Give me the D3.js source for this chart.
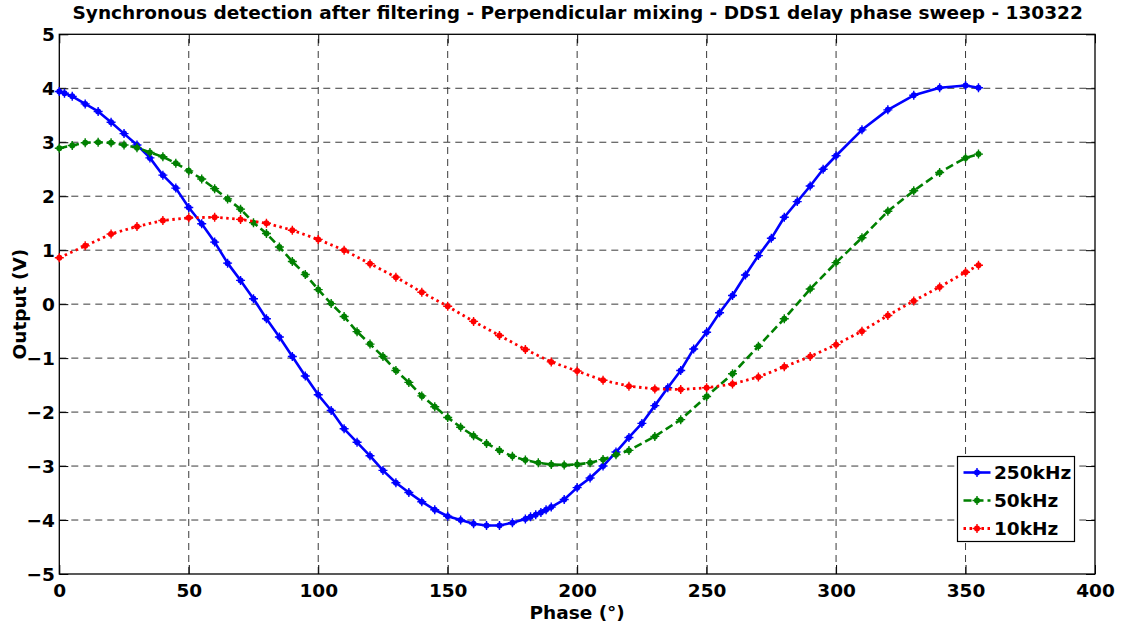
<!DOCTYPE html>
<html>
<head>
<meta charset="utf-8">
<script src="https://cdn.jsdelivr.net/npm/d3@7"></script>
<style>
  html, body { margin: 0; padding: 0; background: #fff; }
  svg { display: block; font-family: "DejaVu Sans", sans-serif; font-weight: bold; }
</style>
</head>
<body>
<svg id="chart" width="1127" height="632"></svg>
<script>
// Phase sweep of DDS1 delay (degrees) and detector output (V) for each modulation frequency
const phase250 = [0, 2, 5, 10, 15, 20, 25, 30, 35, 40, 45, 50, 55, 60, 65, 70, 75, 80, 85, 90, 95,
  100, 105, 110, 115, 120, 125, 130, 135, 140, 145, 150, 155, 160, 165, 170, 175, 180, 182, 184,
  186, 188, 190, 195, 200, 205, 210, 215, 220, 225, 230, 235, 240, 245, 250, 255, 260, 265, 270,
  275, 280, 285, 290, 295, 300, 310, 320, 330, 340, 350, 355];
const out250 = [3.94, 3.91, 3.85, 3.71, 3.57, 3.37, 3.16, 2.95, 2.71, 2.39, 2.15, 1.79, 1.49, 1.15,
  0.76, 0.44, 0.10, -0.27, -0.61, -0.97, -1.33, -1.68, -1.97, -2.31, -2.56, -2.81, -3.08, -3.31,
  -3.49, -3.66, -3.81, -3.93, -4.00, -4.07, -4.10, -4.10, -4.05, -3.98, -3.94, -3.90, -3.86, -3.81,
  -3.76, -3.62, -3.40, -3.22, -3.00, -2.74, -2.47, -2.21, -1.88, -1.55, -1.23, -0.83, -0.52, -0.16,
  0.16, 0.54, 0.90, 1.22, 1.61, 1.90, 2.19, 2.50, 2.75, 3.23, 3.60, 3.87, 4.01, 4.05, 4.01];

const phase50 = [0, 5, 10, 15, 20, 25, 30, 35, 40, 45, 50, 55, 60, 65, 70, 75, 80, 85, 90, 95, 100,
  105, 110, 115, 120, 125, 130, 135, 140, 145, 150, 155, 160, 165, 170, 175, 180, 185, 190, 195,
  200, 205, 210, 215, 220, 230, 240, 250, 260, 270, 280, 290, 300, 310, 320, 330, 340, 350, 355];
const out50 = [2.89, 2.94, 2.99, 3.00, 2.99, 2.95, 2.90, 2.81, 2.73, 2.61, 2.47, 2.32, 2.14, 1.95,
  1.76, 1.51, 1.31, 1.06, 0.79, 0.55, 0.27, 0.01, -0.23, -0.51, -0.74, -0.97, -1.23, -1.45, -1.70,
  -1.90, -2.10, -2.28, -2.44, -2.58, -2.71, -2.82, -2.89, -2.94, -2.97, -2.98, -2.97, -2.94, -2.88,
  -2.79, -2.71, -2.45, -2.14, -1.71, -1.29, -0.78, -0.27, 0.28, 0.77, 1.23, 1.72, 2.10, 2.44,
  2.71, 2.78];

const phase10 = [0, 10, 20, 30, 40, 50, 60, 70, 80, 90, 100, 110, 120, 130, 140, 150, 160, 170,
  180, 190, 200, 210, 220, 230, 240, 250, 260, 270, 280, 290, 300, 310, 320, 330, 340, 350, 355];
const out10 = [0.86, 1.08, 1.30, 1.44, 1.55, 1.60, 1.61, 1.57, 1.50, 1.37, 1.20, 1.00, 0.75, 0.50,
  0.22, -0.04, -0.32, -0.58, -0.84, -1.07, -1.24, -1.41, -1.52, -1.57, -1.58, -1.55, -1.48, -1.35,
  -1.16, -0.97, -0.75, -0.50, -0.21, 0.06, 0.32, 0.59, 0.72];

const xTicks = [0, 50, 100, 150, 200, 250, 300, 350, 400];
const yTicks = [-5, -4, -3, -2, -1, 0, 1, 2, 3, 4, 5];
const seriesNames = ["250kHz", "50kHz", "10kHz"];

const titleText = "Synchronous detection after filtering - Perpendicular mixing - DDS1 delay phase sweep - 130322";
const xLabel = "Phase (\u00b0)";
const yLabel = "Output (V)";

// Layout
const svg = d3.select("#chart");
const plotLeft = 59.3, plotRight = 1095, plotTop = 34.3, plotBottom = 574;
const x = d3.scaleLinear().domain([0, 400]).range([plotLeft, plotRight]);
const y = d3.scaleLinear().domain([-5, 5]).range([plotBottom, plotTop]);
const fontStack = "DejaVu Sans, sans-serif";
const labelSize = 18.5;

const series = [
  { name: seriesNames[0], xs: phase250, ys: out250, color: "#0000ff", dash: null, width: 2.6 },
  { name: seriesNames[1], xs: phase50, ys: out50, color: "#008000", dash: "8,4", width: 2.6 },
  { name: seriesNames[2], xs: phase10, ys: out10, color: "#ff0000", dash: "2.5,3.5", width: 2.8 }
];

// Background of axes
svg.append("rect").attr("x", plotLeft).attr("y", plotTop)
  .attr("width", plotRight - plotLeft).attr("height", plotBottom - plotTop).attr("fill", "#fff");

// Grid lines
const grid = svg.append("g").attr("stroke", "#3a3a3a").attr("stroke-width", 1)
  .attr("stroke-dasharray", "7,5").attr("fill", "none");
xTicks.slice(1, -1).forEach(t => {
  grid.append("line").attr("x1", x(t)).attr("x2", x(t)).attr("y1", plotBottom).attr("y2", plotTop);
});
yTicks.slice(1, -1).forEach(t => {
  grid.append("line").attr("x1", plotLeft).attr("x2", plotRight).attr("y1", y(t)).attr("y2", y(t));
});

// Axes with inward ticks on all four sides
const tickLen = 9;
const xAxisB = d3.axisBottom(x).tickValues(xTicks).tickSizeInner(-tickLen).tickSizeOuter(0).tickPadding(9);
const xAxisT = d3.axisTop(x).tickValues(xTicks).tickSizeInner(-tickLen).tickSizeOuter(0).tickFormat("");
const yAxisL = d3.axisLeft(y).tickValues(yTicks).tickSizeInner(-tickLen).tickSizeOuter(0).tickPadding(4.5);
const yAxisR = d3.axisRight(y).tickValues(yTicks).tickSizeInner(-tickLen).tickSizeOuter(0).tickFormat("");

function styleAxis(g) {
  g.select(".domain").remove();
  g.selectAll(".tick line").attr("stroke", "#000").attr("stroke-width", 1);
  g.selectAll(".tick text").attr("fill", "#000").attr("font-size", labelSize)
    .attr("font-weight", "bold").attr("font-family", fontStack);
}
svg.append("g").attr("transform", `translate(0,${plotBottom})`).call(xAxisB).call(styleAxis)
  .selectAll(".tick text").attr("dy", "0.73em");
svg.append("g").attr("transform", `translate(0,${plotTop})`).call(xAxisT).call(styleAxis);
svg.append("g").attr("transform", `translate(${plotLeft},0)`).call(yAxisL).call(styleAxis)
  .selectAll(".tick text").attr("dy", "0.36em");
svg.append("g").attr("transform", `translate(${plotRight},0)`).call(yAxisR).call(styleAxis);

// Box
svg.append("rect").attr("x", plotLeft).attr("y", plotTop)
  .attr("width", plotRight - plotLeft).attr("height", plotBottom - plotTop)
  .attr("fill", "none").attr("stroke", "#000").attr("stroke-width", 1.3);

// Marker shape: small filled dot with a plus through it
function drawMarker(g, cx, cy, color) {
  g.append("circle").attr("cx", cx).attr("cy", cy).attr("r", 3).attr("fill", color);
  g.append("path").attr("d", `M${cx - 4.5},${cy}H${cx + 4.5}M${cx},${cy - 4.5}V${cy + 4.5}`)
    .attr("stroke", color).attr("stroke-width", 1.4);
}

// Series lines and markers
const lineGen = d3.line().x(d => x(d[0])).y(d => y(d[1]));
series.forEach(s => {
  const pts = s.xs.map((v, i) => [v, s.ys[i]]);
  const g = svg.append("g");
  g.append("path").attr("d", lineGen(pts)).attr("fill", "none")
    .attr("stroke", s.color).attr("stroke-width", s.width)
    .attr("stroke-dasharray", s.dash).attr("stroke-linejoin", "round");
  pts.forEach(p => drawMarker(g, x(p[0]), y(p[1]), s.color));
});

// Legend
const lg = svg.append("g");
const lgX = 957.5, lgY = 456.5, lgW = 117, lgH = 85;
lg.append("rect").attr("x", lgX).attr("y", lgY).attr("width", lgW).attr("height", lgH)
  .attr("fill", "#fff").attr("stroke", "#000").attr("stroke-width", 1.2);
series.forEach((s, i) => {
  const cy = lgY + 16 + i * 28;
  lg.append("line").attr("x1", lgX + 6).attr("x2", lgX + 33).attr("y1", cy).attr("y2", cy)
    .attr("stroke", s.color).attr("stroke-width", s.width).attr("stroke-dasharray", s.dash);
  drawMarker(lg, lgX + 19.5, cy, s.color);
  lg.append("text").attr("x", lgX + 36.5).attr("y", cy).attr("dy", "0.36em")
    .attr("font-size", labelSize).attr("fill", "#000").text(s.name);
});

// Title and axis labels
svg.append("text").attr("x", (plotLeft + plotRight) / 2 + 0.5).attr("y", 18.5)
  .attr("text-anchor", "middle").attr("font-size", labelSize).attr("fill", "#000").text(titleText);
svg.append("text").attr("x", (plotLeft + plotRight) / 2).attr("y", 618.5)
  .attr("text-anchor", "middle").attr("font-size", labelSize).attr("fill", "#000").text(xLabel);
svg.append("text").attr("transform", `translate(25.5,${(plotTop + plotBottom) / 2}) rotate(-90)`)
  .attr("text-anchor", "middle").attr("font-size", labelSize).attr("fill", "#000").text(yLabel);
</script>
</body>
</html>
